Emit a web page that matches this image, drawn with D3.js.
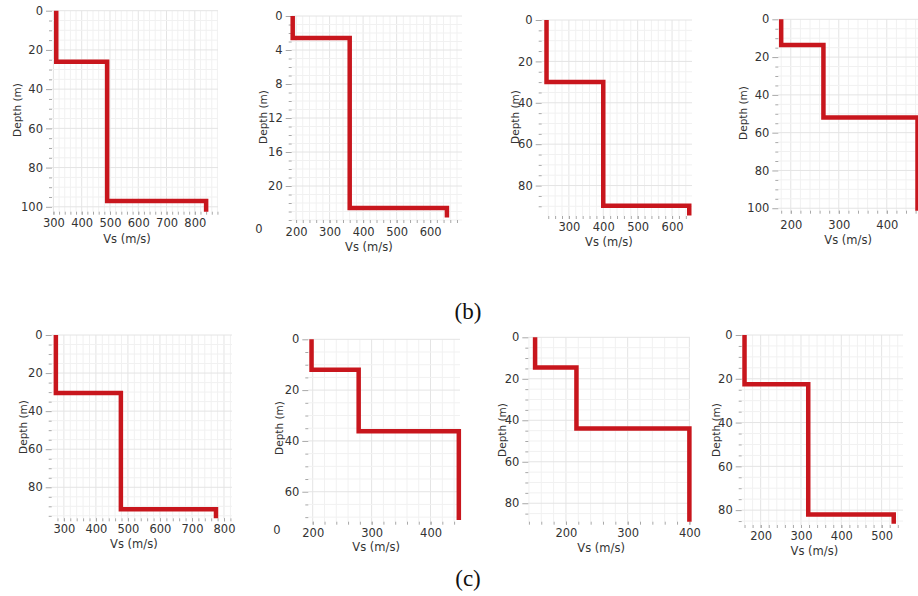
<!DOCTYPE html>
<html>
<head>
<meta charset="utf-8">
<script src="https://cdn.jsdelivr.net/npm/d3@7"></script>
<style>
  body { margin: 0; background: #fff; }
  svg { display: block; }
</style>
</head>
<body>
<svg id="chart"></svg>
<script>
// Vs profiles: velocity of each layer (m/s) and the depth where each layer starts (m)
const profileNames = ["b1", "b2", "b3", "b4", "c1", "c2", "c3", "c4"];
const vsLayers = [
  [310, 490, 840],
  [190, 360, 650],
  [235, 400, 650],
  [180, 268, 464],
  [275, 478, 775],
  [198, 278, 448],
  [150, 217, 400],
  [160, 318, 530]
];
const layerTops = [
  [0, 26, 97],
  [0, 2.6, 22.6],
  [0, 30, 89.7],
  [0, 13.6, 52],
  [0, 30.5, 91.5],
  [0, 12, 36.2],
  [0, 14.5, 44],
  [0, 22.5, 82]
];
const profileEnds = [102.5, 23.7, 94.5, 101.3, 96.3, 71.1, 88.9, 86.2];

// axis extents and ticks
const xDomains = [[295, 882], [187, 695], [221, 658], [174, 465], [262, 825], [192.5, 450], [139, 401], [153, 553]];
const yDomains = [[0, 102.5], [0, 24], [0, 94.7], [0, 101.3], [0, 96.3], [0, 71.8], [0, 88.9], [0, 86.8]];
const xTickValues = [
  [300, 400, 500, 600, 700, 800],
  [200, 300, 400, 500, 600],
  [300, 400, 500, 600],
  [200, 300, 400],
  [300, 400, 500, 600, 700, 800],
  [200, 300, 400],
  [200, 300, 400],
  [200, 300, 400, 500]
];
const yTickValues = [
  [0, 20, 40, 60, 80, 100],
  [0, 4, 8, 12, 16, 20],
  [0, 20, 40, 60, 80],
  [0, 20, 40, 60, 80, 100],
  [0, 20, 40, 60, 80],
  [0, 20, 40, 60],
  [0, 20, 40, 60, 80],
  [0, 20, 40, 60, 80]
];
const xMinorSteps = [20, 20, 20, 20, 20, 20, 20, 20];
const yMinorSteps = [5, 1, 5, 5, 5, 5, 5, 5];
const groupLabels = ["(b)", "(c)"];

// where each small plot sits in the picture
const panels = [
  { l: 52,    r: 218, t: 10.7,  b: 211.7, gap: 7,  titleY: 239, yt: [17, 110] },
  { l: 291.7, r: 462, t: 16,    b: 220,   gap: 8,  titleY: 247, yt: [263, 117] },
  { l: 541.7, r: 692, t: 20,    b: 216,   gap: 7,  titleY: 242, yt: [515, 117] },
  { l: 778.3, r: 918, t: 19.3,  b: 210.7, gap: 10, titleY: 240, yt: [743, 113] },
  { l: 51.7,  r: 232, t: 335,   b: 518.3, gap: 7,  titleY: 544, yt: [23, 427] },
  { l: 308.3, r: 460, t: 339.3, b: 521.7, gap: 7,  titleY: 547, yt: [279, 428] },
  { l: 528.3, r: 690, t: 337.3, b: 521.7, gap: 7,  titleY: 548, yt: [502, 430] },
  { l: 741.7, r: 903, t: 335,   b: 525,   gap: 7,  titleY: 551, yt: [716, 430] }
];

const W = 918, H = 596;
const font = "DejaVu Sans, Verdana, sans-serif";
const ink = "#333";
const svg = d3.select("#chart").attr("width", W).attr("height", H);
svg.append("rect").attr("width", W).attr("height", H).attr("fill", "#fff");

profileNames.forEach((name, i) => {
  const p = panels[i];
  const x = d3.scaleLinear().domain(xDomains[i]).range([p.l, p.r]);
  const y = d3.scaleLinear().domain(yDomains[i]).range([p.t, p.b]);
  const g = svg.append("g").attr("class", "panel-" + name);

  const [x0, x1] = xDomains[i], [y0, y1] = yDomains[i];
  const xs = xMinorSteps[i], ys = yMinorSteps[i];
  const xMinor = d3.range(Math.ceil(x0 / xs) * xs, x1 + 0.001, xs);
  const yMinor = d3.range(Math.ceil(y0 / ys) * ys, y1 + 0.001, ys);

  // faint grid
  g.append("g").selectAll("line").data(xMinor).join("line")
    .attr("x1", d => x(d)).attr("x2", d => x(d))
    .attr("y1", p.t).attr("y2", p.b)
    .attr("stroke", d => xTickValues[i].includes(d) ? "#e4e4e4" : "#f1f1f1")
    .attr("stroke-width", 1);
  g.append("g").selectAll("line").data(yMinor).join("line")
    .attr("x1", p.l).attr("x2", p.r)
    .attr("y1", d => y(d)).attr("y2", d => y(d))
    .attr("stroke", d => yTickValues[i].includes(d) ? "#e4e4e4" : "#f1f1f1")
    .attr("stroke-width", 1);

  // y axis
  const ya = g.append("g").attr("transform", `translate(${p.l},0)`)
    .call(d3.axisLeft(y).tickValues(yTickValues[i]).tickSize(6).tickPadding(3));
  const yMin = g.append("g").attr("transform", `translate(${p.l},0)`)
    .call(d3.axisLeft(y).tickValues(yMinor.filter(d => !yTickValues[i].includes(d))).tickSize(3).tickFormat(""));

  // x axis
  const xa = g.append("g").attr("transform", `translate(0,${p.b})`)
    .call(d3.axisBottom(x).tickValues(xTickValues[i]).tickSize(3).tickPadding(p.gap - 3));
  const xMin = g.append("g").attr("transform", `translate(0,${p.b})`)
    .call(d3.axisBottom(x).tickValues(xMinor).tickSize(3).tickFormat(""));

  [ya, yMin, xa, xMin].forEach(a => {
    a.select(".domain").remove();
    a.selectAll("line").attr("stroke", "#a8a8a8");
    a.selectAll("text").attr("fill", ink).style("font-family", font).style("font-size", "11.5px");
  });

  // step profile
  const pts = vsLayers[i].map((v, k) => [v, layerTops[i][k]]);
  pts.push([vsLayers[i][vsLayers[i].length - 1], profileEnds[i]]);
  g.append("path")
    .datum(pts)
    .attr("d", d3.line().x(d => x(d[0])).y(d => y(d[1])).curve(d3.curveStepBefore))
    .attr("fill", "none")
    .attr("stroke", "#c8161d")
    .attr("stroke-width", 4.5)
    .attr("stroke-linejoin", "miter");

  // axis titles
  g.append("text")
    .attr("x", (p.l + p.r) / 2 - (i === 3 ? 0 : 8)).attr("y", p.titleY)
    .attr("dy", "0.35em")
    .attr("text-anchor", "middle")
    .style("font-family", font).style("font-size", "11.5px")
    .attr("fill", ink)
    .text("Vs (m/s)");
  g.append("text")
    .attr("transform", `translate(${p.yt[0]},${p.yt[1]}) rotate(-90)`)
    .attr("dy", "0.35em")
    .attr("text-anchor", "middle")
    .style("font-family", font).style("font-size", "10.5px")
    .attr("fill", ink)
    .text("Depth (m)");
});

// stray digits left over from the cropped figures
svg.append("text").attr("x", 259).attr("y", 229).attr("dy", "0.35em")
  .attr("text-anchor", "middle").style("font-family", font).style("font-size", "11.5px")
  .attr("fill", ink).text("0");
svg.append("text").attr("x", 277).attr("y", 530).attr("dy", "0.35em")
  .attr("text-anchor", "middle").style("font-family", font).style("font-size", "11.5px")
  .attr("fill", ink).text("0");

// group labels
svg.selectAll(".group-label").data(groupLabels).join("text")
  .attr("class", "group-label")
  .attr("x", 468)
  .attr("y", (d, k) => k === 0 ? 311 : 578)
  .attr("dy", "0.35em")
  .attr("text-anchor", "middle")
  .style("font-family", "Liberation Serif, Times New Roman, serif")
  .style("font-size", "23px")
  .attr("fill", "#111")
  .text(d => d);
</script>
</body>
</html>
